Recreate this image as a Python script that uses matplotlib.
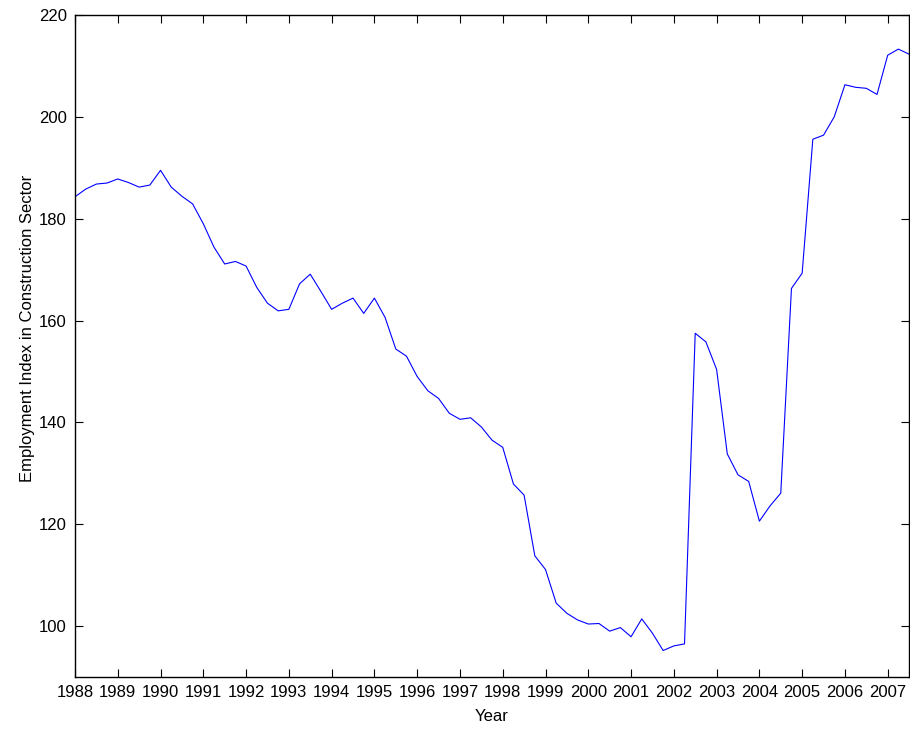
import numpy as np
import matplotlib
matplotlib.use("Agg")
import matplotlib.pyplot as plt

plt.rcParams["font.family"] = ["Liberation Sans", "DejaVu Sans"]

# quarterly construction employment index, 1988 Q1 .. 2007 Q3
start_year = 1988
index_values = [
    184.3, 185.8, 186.8, 187.0,
    187.8, 187.1, 186.2, 186.6,
    189.5, 186.2, 184.4, 182.9,
    179.0, 174.4, 171.1, 171.6,
    170.7, 166.5, 163.4, 161.9,
    162.2, 167.2, 169.1, 165.7,
    162.2, 163.4, 164.4, 161.4,
    164.4, 160.6, 154.4, 153.0,
    149.0, 146.2, 144.7, 141.8,
    140.6, 140.9, 139.1, 136.5,
    135.1, 127.9, 125.7, 113.8,
    111.1, 104.5, 102.5, 101.2,
    100.4, 100.5, 99.0, 99.7,
    97.9, 101.4, 98.6, 95.2,
    96.1, 96.5, 157.5, 155.8,
    150.4, 133.8, 129.7, 128.4,
    120.6, 123.6, 126.1, 166.3,
    169.3, 195.6, 196.4, 200.0,
    206.3, 205.8, 205.6, 204.4,
    212.1, 213.3, 212.3,
]
year_ticks = list(range(1988, 2008))
y_ticks = [100, 120, 140, 160, 180, 200, 220]

t = start_year + np.arange(len(index_values)) / 4.0

fig = plt.figure(figsize=(9.1, 7.31), dpi=100)
ax = fig.add_axes([0.0824, 0.0739, 0.9166, 0.9056])

ax.plot(t, index_values, color=(0, 0, 1), linewidth=0.8)

ax.set_xlim(1988, t[-1])
ax.set_ylim(90, 220)
ax.set_xticks(year_ticks)
ax.set_xticklabels([str(y) for y in year_ticks])
ax.set_yticks(y_ticks)

ax.tick_params(direction="in", length=6, width=0.8, top=True, right=True,
               labelsize=12, pad=6)
for s in ax.spines.values():
    s.set_linewidth(1.0)

ax.set_xlabel("Year", fontsize=12, labelpad=6)
ax.set_ylabel("Employment Index in Construction Sector", fontsize=12)
ax.yaxis.set_label_coords(-0.048, 0.526)

fig.savefig("out.png", dpi=100)
